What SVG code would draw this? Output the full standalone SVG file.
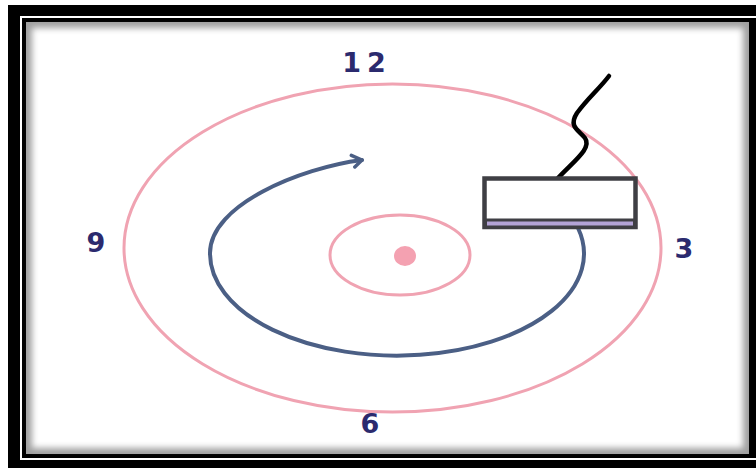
<svg xmlns="http://www.w3.org/2000/svg" width="756" height="468" viewBox="0 0 756 468">
<style>
.num{font-family:"DejaVu Sans","Liberation Sans",sans-serif;font-weight:bold;font-size:27px;fill:#2b2a6e;text-anchor:middle}
.pink{fill:none;stroke:#f0a3b2;stroke-width:3}
.blue{fill:none;stroke:#4b5f85;stroke-width:4;stroke-linecap:round}
</style>
<defs>
<filter id="soft" x="-5%" y="-5%" width="110%" height="110%"><feGaussianBlur stdDeviation="3"/></filter>
<marker id="arr" markerWidth="16" markerHeight="16" refX="12" refY="8" orient="auto" markerUnits="userSpaceOnUse">
<polyline points="2,2 12,8 4,14" fill="none" stroke="#4b5f85" stroke-width="3.5" stroke-linecap="round" stroke-linejoin="round"/>
</marker>
</defs>
<rect width="756" height="468" fill="#ffffff"/>
<g id="frame">
<rect x="8" y="5" width="748" height="463" fill="#000"/>
<rect x="21" y="17" width="745" height="442" fill="none" stroke="#fff" stroke-width="2"/>
<rect x="26" y="22" width="723" height="432" fill="#a0a0a0"/>
<rect x="32" y="28" width="711" height="420" fill="#fff" filter="url(#soft)"/>
</g>
<g id="outer-orbit"><ellipse cx="392.5" cy="248" rx="268.5" ry="164" class="pink"/></g>
<g id="inner-orbit"><ellipse cx="400" cy="255" rx="70" ry="40" class="pink"/></g>
<g id="center"><ellipse cx="405" cy="256" rx="11" ry="10" fill="#f4a1b1"/></g>
<g id="connectors">
<path class="blue" marker-end="url(#arr)" d="M 578 228 A 187 102 0 1 1 210 253 C 210 205 300 168 362 160"/>
<path d="M 558 178 C 575 160 592 148 585 138 C 579 130 568 127 577 113 C 588 98 600 88 609 76" fill="none" stroke="#000" stroke-width="4.5" stroke-linecap="round"/>
</g>
<g id="box">
<rect x="484.5" y="178.5" width="151" height="48.5" fill="#fff" stroke="#3f3f44" stroke-width="4.5"/>
<rect x="486" y="218.5" width="148" height="8" fill="#3f3f44"/>
<rect x="487" y="221.5" width="146" height="4" fill="#b3a3d6"/>
</g>
<g id="labels">
<text class="num" x="367" y="72" letter-spacing="6">12</text>
<text class="num" x="96" y="252">9</text>
<text class="num" x="684" y="258">3</text>
<text class="num" x="370" y="433">6</text>
</g>
</svg>
